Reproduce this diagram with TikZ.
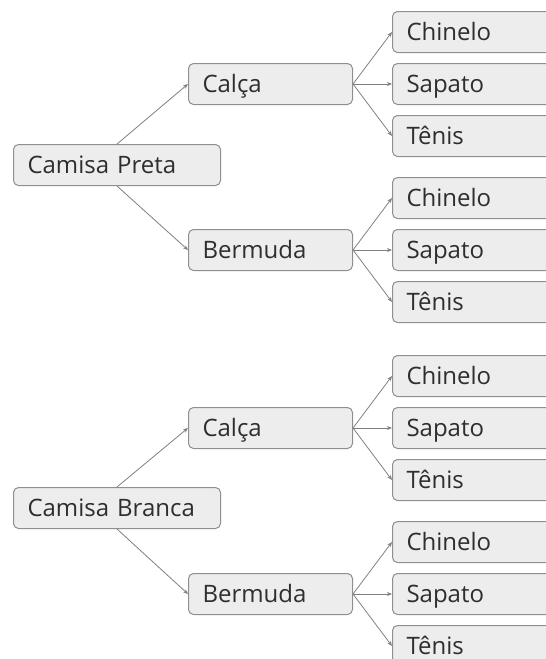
\documentclass[tikz,border=0pt]{standalone}
\usepackage{fontspec}
\setmainfont{Open Sans}
\usetikzlibrary{arrows.meta}
\definecolor{boxfill}{HTML}{EDEDED}
\definecolor{boxline}{HTML}{8F8F8F}
\definecolor{edgeline}{HTML}{7F7F7F}
\definecolor{boxtext}{HTML}{2E2E2E}

\begin{document}
\begin{tikzpicture}[x = 1pt, y = -1pt, font = \fontsize{24}{28}\selectfont]
	\tikzstyle{ItemStyle} = [draw = boxline, fill = boxfill, line width = 1pt, rounded corners = 5pt, anchor = west, align = left, minimum height = 41pt, text height = 17pt, text depth = 0pt, inner xsep = 14pt, text = boxtext]
	\tikzstyle{rootStyle} = [ItemStyle, text width = 179pt]
	\tikzstyle{partStyle} = [ItemStyle, text width = 136pt]
	\tikzstyle{leafStyle} = [ItemStyle, text width = 200pt]
	\tikzstyle{EdgeStyle} = [draw = edgeline, line width = 0.8pt, -{Stealth[length = 5pt, width = 4pt]}]
	\useasboundingbox (0,0) rectangle (546,659);
	\clip (0,0) rectangle (546,659);
	% camisa preta
	\node[rootStyle] (rootA) at (13,165) {Camisa Preta};
	\node[partStyle] (calcaA) at (188,84) {Calça};
	\node[partStyle] (bermudaA) at (188,250) {Bermuda};
	\node[leafStyle] (chineloA1) at (392,32) {Chinelo};
	\node[leafStyle] (sapatoA1) at (392,84) {Sapato};
	\node[leafStyle] (tenisA1) at (392,136) {Tênis};
	\node[leafStyle] (chineloA2) at (392,198) {Chinelo};
	\node[leafStyle] (sapatoA2) at (392,250) {Sapato};
	\node[leafStyle] (tenisA2) at (392,302) {Tênis};
	% camisa branca
	\node[rootStyle] (rootB) at (13,508) {Camisa Branca};
	\node[partStyle] (calcaB) at (188,428) {Calça};
	\node[partStyle] (bermudaB) at (188,594) {Bermuda};
	\node[leafStyle] (chineloB1) at (392,376) {Chinelo};
	\node[leafStyle] (sapatoB1) at (392,428) {Sapato};
	\node[leafStyle] (tenisB1) at (392,480) {Tênis};
	\node[leafStyle] (chineloB2) at (392,542) {Chinelo};
	\node[leafStyle] (sapatoB2) at (392,594) {Sapato};
	\node[leafStyle] (tenisB2) at (392,646) {Tênis};
	\draw[EdgeStyle] (rootA.north) -- (calcaA.west);
	\draw[EdgeStyle] (rootA.south) -- (bermudaA.west);
	\draw[EdgeStyle] (calcaA.east) -- (chineloA1.west);
	\draw[EdgeStyle] (calcaA.east) -- (sapatoA1.west);
	\draw[EdgeStyle] (calcaA.east) -- (tenisA1.west);
	\draw[EdgeStyle] (bermudaA.east) -- (chineloA2.west);
	\draw[EdgeStyle] (bermudaA.east) -- (sapatoA2.west);
	\draw[EdgeStyle] (bermudaA.east) -- (tenisA2.west);
	\draw[EdgeStyle] (rootB.north) -- (calcaB.west);
	\draw[EdgeStyle] (rootB.south) -- (bermudaB.west);
	\draw[EdgeStyle] (calcaB.east) -- (chineloB1.west);
	\draw[EdgeStyle] (calcaB.east) -- (sapatoB1.west);
	\draw[EdgeStyle] (calcaB.east) -- (tenisB1.west);
	\draw[EdgeStyle] (bermudaB.east) -- (chineloB2.west);
	\draw[EdgeStyle] (bermudaB.east) -- (sapatoB2.west);
	\draw[EdgeStyle] (bermudaB.east) -- (tenisB2.west);
\end{tikzpicture}
\end{document}
